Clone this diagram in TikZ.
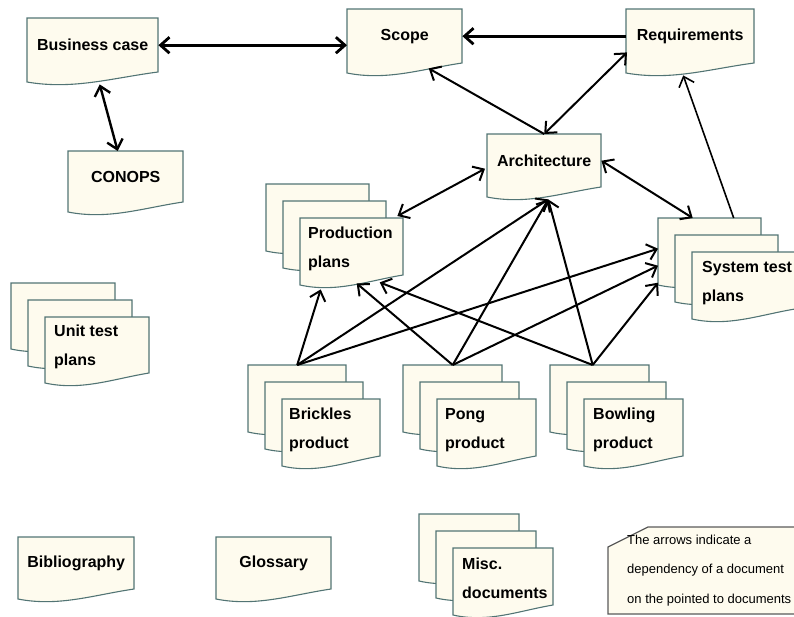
\documentclass[tikz,border=0pt]{standalone}
\usepackage{fontspec}
\setmainfont{Liberation Sans}
\definecolor{docfill}{RGB}{254,251,238}
\definecolor{docedge}{RGB}{82,116,116}
\definecolor{noteedge}{RGB}{90,90,90}
\usetikzlibrary{arrows.meta,calc}

% one sheet with a wavy lower edge: x, y, width, height
\newcommand{\docsheet}[4]{%
  \filldraw[paper] (#1,#2) -- ++(#3,0) -- ++(0,#4)
    .. controls +(-0.35*#3,6) and +(0.35*#3,8) .. ++(-#3,10) -- cycle;}

% single document: name, x, y, width, height, label
\newcommand{\docsingle}[6]{%
  \docsheet{#2}{#3}{#4}{#5}
  \node[docbox, minimum width=#4pt, minimum height=#5pt] (#1) at (#2,#3) {#6};}

% stack of three documents: name, x, y (front sheet), width, height, label indent, label
\newcommand{\docstack}[7]{%
  \node[docbox, minimum width=#4pt, minimum height=#5pt] (#1-back) at (#2-34,#3-34) {};
  \foreach \k in {2,1,0} {\docsheet{#2-17*\k}{#3-17*\k}{#4}{#5}}
  \node[docbox, minimum width=#4pt, minimum height=#5pt] (#1) at (#2,#3) {};
  \node[stacklabel] (#1-label) at ($(#1.west)+(#6,2)$) {#7};}

\begin{document}
\begin{tikzpicture}[x=1pt, y=-1pt,
    paper/.style={fill=docfill, draw=docedge, line width=1.1pt},
    docbox/.style={anchor=north west, inner sep=0pt, align=center, font=\bfseries\fontsize{16}{29}\selectfont},
    stacklabel/.style={anchor=west, inner sep=0pt, align=left, font=\bfseries\fontsize{16}{29}\selectfont},
    notetext/.style={anchor=west, inner sep=0pt, align=left, font=\fontsize{13}{29.5}\selectfont},
    oneway/.style={->, line width=2pt},
    twoway/.style={<->, line width=2pt},
    >={Straight Barb[length=9pt,width=16pt]}]
  \clip (0,0) rectangle (794,616);

  % single documents
  \docsingle{bcase}{27}{18}{131}{54}{Business case}
  \docsingle{scope}{347}{9}{115}{54}{Scope}
  \docsingle{req}{626}{9}{128}{54}{Requirements}
  \docsingle{conops}{68}{151}{115}{51}{CONOPS}
  \docsingle{arch}{487}{134}{114}{53}{Architecture}
  \docsingle{biblio}{18}{537}{116}{52}{Bibliography}
  \docsingle{gloss}{216}{537}{115}{52}{Glossary}

  % stacks
  \docstack{prod}{300}{218}{103}{57}{8}{Production\\plans}
  \docstack{sys}{692}{252}{103}{57}{10}{System test\\plans}
  \docstack{unit}{45}{317}{104}{56}{9}{Unit test\\plans}
  \docstack{brick}{282}{399}{98}{57}{7}{Brickles\\product}
  \docstack{pong}{437}{399}{99}{57}{8}{Pong\\product}
  \docstack{bowl}{584}{399}{99}{57}{9}{Bowling\\product}
  \docstack{misc}{453}{548}{100}{57}{9}{Misc.\\documents}

  % note
  \filldraw[fill=docfill, draw=noteedge, line width=1.3pt]
    (608,614) -- (608,547) -- (648,527) -- (830,527) -- (830,614) -- cycle;
  \node[notetext] (note) at (627,570.5)
    {The arrows indicate a\\dependency of a document\\on the pointed to documents};

  % dependencies
  \draw[twoway, line width=2.8pt] (bcase.east) -- (bcase.east -| scope.west);
  \draw[oneway, line width=2.8pt] (req.west) -- (scope.east);
  \draw[twoway, line width=2.4pt] ($(bcase.south)+(7,12)$) -- ($(conops.north)+(-8,0)$);
  \draw[oneway] (arch.north) -- ($(scope.south)+(24,5)$);
  \draw[twoway] (arch.north) -- ($(req.south west)+(1,-11)$);
  \draw[twoway] ($(prod.north east)+(-6,-2)$) -- ($(arch.west)+(-2,8)$);
  \draw[twoway] (arch.east) -- ($(sys-back.north)+(-17,0)$);
  \draw[oneway, line width=1.6pt] ($(sys-back.north)+(24,0)$) -- ($(req.south)+(-7,12)$);

  \foreach \src/\shift/\pdx/\pdy/\sdy in {brick/0/-31/14/2, pong/0/5/8/19, bowl/-7/28/7/36} {
    \coordinate (\src-apex) at ($(\src-back.north)+(\shift,0)$);
    \draw[oneway] (\src-apex) -- ($(prod.south)+(\pdx,\pdy)$);
    \draw[oneway] (\src-apex) -- ($(arch.south)+(4,12)$);
    \draw[oneway] (\src-apex) -- ($(sys-back.west)+(0,\sdy)$);
  }
\end{tikzpicture}
\end{document}
